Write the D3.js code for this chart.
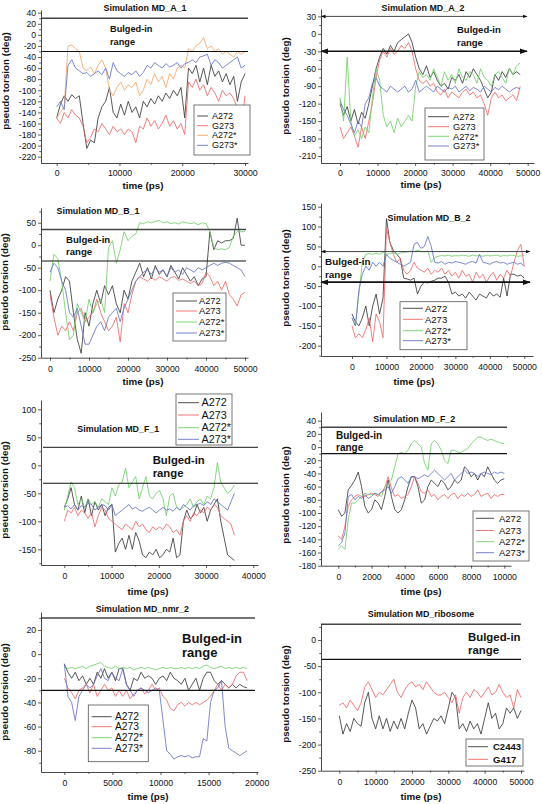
<!DOCTYPE html>
<html><head><meta charset="utf-8">
<script src="https://cdn.jsdelivr.net/npm/d3@7"></script>
<style>
body{margin:0;background:#fff}
svg{display:block}
text{font-family:"Liberation Sans",Arial,Helvetica,sans-serif}
</style>
</head><body>
<svg id="chart" width="542" height="804"></svg>
<script>
// ---------------- DATA ----------------
// sampling steps (ps) of each simulation trace
const stepA1 = 600, stepA2 = 960, stepB1 = 1000, stepB2 = 1000, stepF1 = 720, stepF2 = 200, stepNmr2 = 380, stepRibo = 1000;

const a1_A272 = [-150,-125,-110,-120,-108,-115,-110,-160,-205,-190,-195,-150,-130,-120,-95,-140,-150,-125,-145,-120,-140,-130,-150,-120,-130,-115,-125,-110,-120,-105,-115,-100,-110,-95,-150,-60,-70,-55,-85,-60,-90,-55,-75,-65,-85,-70,-90,-75,-120,-85,-70];
const a1_G273 = [-150,-160,-140,-150,-135,-145,-150,-165,-195,-185,-170,-175,-160,-170,-180,-165,-175,-170,-180,-170,-175,-195,-165,-170,-150,-165,-155,-170,-160,-145,-165,-155,-170,-160,-180,-85,-95,-80,-100,-90,-110,-95,-105,-120,-100,-110,-105,-115,-135,-170,-110];
const a1_A272s = [-150,-140,-130,-20,-18,-25,-30,-60,-65,-58,-70,-55,-45,-60,-100,-110,-95,-85,-100,-90,-95,-85,-110,-100,-80,-90,-70,-85,-75,-95,-70,-80,-60,-55,-60,-25,-30,-20,-15,-5,-25,-20,-30,-25,-35,-30,-35,-40,-30,-35,-30];
const a1_G273s = [-130,-120,-135,-55,-45,-60,-65,-70,-68,-75,-70,-65,-72,-60,-80,-50,-65,-70,-75,-68,-72,-65,-75,-68,-55,-60,-50,-55,-60,-52,-58,-55,-50,-60,-52,-50,-45,-50,-40,-38,-35,-55,-45,-50,-60,-55,-50,-45,-40,-60,-55];

const a2_A272 = [-120,-140,-125,-150,-130,-155,-135,-145,-120,-90,-60,-40,-25,-35,-20,-30,-15,-10,-5,0,-15,-40,-60,-70,-55,-75,-65,-80,-90,-85,-95,-75,-80,-70,-85,-65,-75,-60,-70,-80,-95,-110,-100,-70,-80,-65,-75,-60,-70,-65,-70];
const a2_G273 = [-160,-180,-170,-160,-175,-195,-160,-180,-150,-120,-75,-45,-30,-40,-25,-35,-30,-20,-25,-15,-30,-60,-80,-85,-80,-90,-85,-100,-105,-95,-110,-100,-105,-110,-100,-95,-105,-100,-110,-105,-120,-140,-110,-100,-110,-105,-115,-110,-105,-115,-90];
const a2_A272s = [-110,-150,-40,-150,-175,-165,-180,-160,-170,-110,-60,-80,-140,-160,-150,-170,-145,-160,-150,-140,-150,-90,-65,-75,-70,-80,-60,-75,-90,-65,-80,-70,-85,-60,-75,-80,-65,-70,-85,-60,-75,-80,-90,-70,-65,-75,-85,-60,-70,-55,-50];
const a2_G273s = [-115,-130,-140,-155,-170,-150,-160,-120,-110,-85,-75,-90,-95,-100,-90,-95,-100,-95,-90,-100,-95,-80,-100,-95,-90,-95,-100,-90,-95,-100,-92,-95,-90,-100,-95,-90,-98,-92,-95,-100,-90,-95,-100,-92,-96,-90,-95,-100,-95,-92,-95];

const b1_A272 = [-100,-150,-120,-100,-70,-80,-150,-210,-240,-150,-180,-130,-100,-130,-90,-110,-90,-130,-150,-100,-120,-80,-60,-40,-70,-50,-75,-45,-65,-55,-70,-45,-60,-75,-50,-65,-80,-70,-90,-75,-70,30,-10,10,5,10,10,15,60,0,0];
const b1_A273 = [-110,-160,-200,-180,-190,-170,-190,-150,-140,-170,-160,-150,-120,-150,-170,-190,-180,-160,-215,-130,-150,-110,-80,-70,-75,-80,-72,-78,-70,-75,-80,-72,-70,-78,-75,-80,-85,-80,-90,-85,-60,-70,-90,-80,-100,-80,-110,-120,-135,-110,-105];
const b1_A272s = [-80,-20,-30,-80,-150,-210,-200,-130,-150,-170,-120,-150,-130,-120,-150,-5,10,-40,-10,30,10,20,25,50,48,52,50,53,55,50,52,48,50,47,52,50,48,50,45,50,48,30,-5,-10,-8,-10,-5,20,30,30,30];
const b1_A273s = [-60,-40,-50,-80,-100,-150,-160,-140,-180,-220,-220,-200,-180,-170,-190,-160,-150,-140,-170,-140,-120,-100,-80,-70,-60,-55,-65,-50,-60,-55,-70,-50,-60,-55,-65,-50,-55,-60,-50,-55,-50,-45,-40,-45,-40,-38,-40,-45,-50,-55,-70];

const b2_A272 = [-120,-140,-150,-130,-100,-150,-100,-70,-120,-80,120,60,40,30,20,-30,-32,-35,-30,-70,-50,-40,-42,-38,-35,-30,-30,-25,-40,-70,-65,-75,-70,-80,-65,-75,-85,-70,-75,-80,-65,-75,-70,-78,-30,-75,-20,-20,-25,-22,-30];
const b2_A273 = [-150,-180,-170,-180,-160,-130,-190,-120,-140,-180,95,60,30,10,20,-10,-20,-10,10,-5,-10,-15,-5,-20,-10,-15,-5,-20,-10,-25,-15,-30,-10,-25,-20,-40,-15,-30,-20,-40,-25,-15,-35,-20,-30,-10,-25,10,40,55,0];
const b2_A272s = [-130,-150,-70,10,30,32,30,33,30,35,30,32,34,30,33,35,36,38,37,40,38,36,39,10,22,25,27,26,28,25,27,26,28,27,25,28,26,27,25,28,26,27,28,25,27,26,28,27,25,26,27];
const b2_A273s = [-130,-150,-60,-20,0,-10,10,0,10,0,30,20,15,10,5,0,5,10,55,60,45,50,75,50,10,8,12,5,10,8,12,10,8,5,10,12,8,30,10,8,5,10,12,8,10,5,8,10,5,8,0];

const f1_A272 = [-75,-60,-40,-70,-80,-55,-85,-60,-90,-65,-80,-70,-90,-75,-70,-155,-140,-130,-150,-125,-150,-120,-135,-160,-165,-155,-160,-150,-165,-160,-150,-155,-130,-165,-160,-100,-80,-95,-90,-70,-85,-75,-100,-80,-70,-60,-100,-130,-160,-165,-170];
const f1_A273 = [-100,-80,-85,-75,-90,-80,-85,-95,-85,-110,-90,-75,-80,-95,-100,-105,-110,-115,-105,-110,-115,-100,-110,-105,-115,-120,-110,-115,-110,-115,-105,-110,-120,-115,-125,-100,-90,-100,-85,-90,-80,-85,-75,-80,-70,-75,-90,-95,-100,-105,-125];
const f1_A272s = [-80,-55,-30,-40,-70,-60,-75,-60,-70,-65,-75,-60,-65,-70,-40,-55,-35,-30,-5,-40,-30,-20,-60,-40,-20,-55,-60,-50,-45,-60,-90,-55,-50,-75,-80,-75,-70,-60,-75,-65,-60,-70,-55,-60,-40,5,-30,-40,-50,-45,-35];
const f1_A273s = [-75,-72,-78,-70,-80,-72,-75,-68,-70,-80,-75,-70,-72,-80,-70,-90,-85,-80,-75,-70,-78,-75,-80,-82,-78,-75,-80,-85,-80,-75,-80,-78,-82,-75,-80,-70,-75,-80,-72,-70,-68,-72,-65,-70,-60,-65,-70,-75,-80,-65,-50];

const f2_A272 = [-95,-105,-100,-65,-58,-50,-38,-60,-90,-100,-95,-80,-85,-95,-75,-50,-75,-95,-100,-95,-80,-60,-45,-45,-60,-85,-80,-60,-50,-55,-60,-50,-55,-65,-60,-50,-55,-50,-30,-35,-45,-40,-50,-40,-45,-30,-40,-50,-55,-50,-48];
const f2_A273 = [-135,-140,-120,-90,-80,-75,-72,-75,-75,-72,-70,-72,-75,-68,-62,-45,-62,-75,-72,-78,-75,-72,-60,-45,-55,-68,-70,-65,-75,-72,-80,-75,-72,-78,-72,-70,-78,-72,-75,-70,-75,-72,-65,-75,-72,-70,-78,-72,-75,-72,-72];
const f2_A272s = [-155,-150,-155,-110,-85,-85,-80,-75,-70,-72,-72,-70,-72,-75,-60,-55,-50,-30,-10,-8,-10,-5,5,10,5,0,-25,-35,5,10,5,-5,-20,-25,-5,-5,-8,-8,-5,-2,5,10,15,15,12,10,12,10,8,6,5];
const f2_A273s = [-150,-145,-130,-75,-72,-80,-75,-78,-72,-78,-75,-70,-72,-68,-65,-60,-70,-60,-48,-45,-50,-55,-45,-45,-48,-45,-42,-45,-40,-35,-40,-45,-50,-45,-40,-50,-45,-40,-35,-40,-38,-40,-45,-40,-38,-40,-42,-38,-40,-38,-40];

const nmr_A272 = [-8,-15,-20,-15,-22,-18,-25,-20,-25,-15,-20,-12,-20,-15,-22,-12,-12,-25,-30,-20,-22,-15,-20,-18,-20,-25,-20,-18,-22,-15,-20,-22,-25,-20,-30,-25,-20,-30,-20,-15,-15,-22,-25,-22,-25,-28,-25,-28,-25,-27,-28];
const nmr_A273 = [-20,-28,-32,-37,-30,-28,-25,-32,-25,-35,-30,-25,-30,-28,-35,-30,-35,-30,-37,-33,-30,-28,-33,-30,-25,-30,-28,-35,-38,-45,-47,-42,-40,-43,-40,-42,-40,-42,-40,-38,-35,-30,-25,-30,-25,-28,-25,-18,-15,-15,-22];
const nmr_A272s = [-10,-12,-11,-12,-11,-10,-12,-10,-9,-8,-7,-10,-11,-12,-10,-12,-11,-12,-11,-13,-12,-11,-12,-11,-12,-13,-12,-11,-12,-11,-12,-12,-11,-12,-11,-12,-11,-12,-10,-9,-11,-12,-11,-10,-12,-11,-12,-11,-12,-11,-12];
const nmr_A273s = [-8,-35,-40,-55,-35,-30,-25,-28,-25,-18,-12,-20,-22,-15,-20,-22,-12,-25,-30,-35,-30,-28,-30,-32,-30,-28,-30,-55,-80,-83,-87,-85,-84,-85,-84,-86,-85,-85,-70,-72,-40,-30,-28,-22,-60,-78,-80,-82,-84,-82,-80];

const ribo_C2443 = [-145,-180,-160,-175,-150,-160,-165,-120,-100,-150,-170,-145,-170,-150,-175,-155,-170,-150,-170,-140,-115,-130,-170,-160,-180,-165,-150,-155,-145,-160,-130,-100,-110,-170,-160,-175,-155,-170,-160,-180,-150,-120,-150,-140,-170,-160,-130,-140,-130,-150,-135];
const ribo_G417 = [-125,-120,-130,-115,-125,-135,-120,-90,-80,-95,-110,-100,-105,-95,-85,-75,-100,-110,-95,-85,-80,-90,-85,-95,-80,-90,-100,-105,-105,-100,-110,-120,-105,-140,-110,-100,-110,-95,-100,-110,-100,-90,-105,-100,-85,-100,-110,-105,-130,-95,-110];

// titles, labels, ticks, bulged-in bounds
const titles = ["Simulation MD_A_1","Simulation MD_A_2","Simulation MD_B_1","Simulation MD_B_2","Simulation MD_F_1","Simulation MD_F_2","Simulation MD_nmr_2","Simulation MD_ribosome"];
const bulgedBounds = [[30,-30],[30,-30],[35,-35],[37,-40],[32,-32],[30,-10],[30,-30],[30,-37]];
const xTicks30k = [0,10000,20000,30000], xMinor30k = [5000,15000,25000];
const xTicks50k = [0,10000,20000,30000,40000,50000], xMinor50k = [5000,15000,25000,35000,45000];
const xTicks40k = [0,10000,20000,30000,40000], xMinor40k = [5000,15000,25000,35000];
const xTicks10k = [0,2000,4000,6000,8000,10000], xMinor10k = [1000,3000,5000,7000,9000];
const xTicks20k = [0,5000,10000,15000,20000], xMinor20k = [2500,7500,12500,17500];
const yTicksA1 = [-220,-200,-180,-160,-140,-120,-100,-80,-60,-40,-20,0,20,40];
const yMinorA1 = [-210,-190,-170,-150,-130,-110,-90,-70,-50,-30,-10,10,30];
const yTicksA2 = [-210,-180,-150,-120,-90,-60,-30,0,30];
const yMinorA2 = [-195,-165,-135,-105,-75,-45,-15,15];
const yTicksB1 = [-250,-200,-150,-100,-50,0,50];
const yMinorB1 = [-225,-175,-125,-75,-25,25,75];
const yTicksB2 = [-200,-150,-100,-50,0,50,100,150];
const yMinorB2 = [-225,-175,-125,-75,-25,25,75,125];
const yTicksF1 = [-150,-100,-50,0,50,100];
const yMinorF1 = [-175,-125,-75,-25,25,75];
const yTicksF2 = [-180,-160,-140,-120,-100,-80,-60,-40,-20,0,20,40];
const yMinorF2 = [-170,-150,-130,-110,-90,-70,-50,-30,-10,10,30];
const yTicksNmr = [-80,-60,-40,-20,0,20];
const yMinorNmr = [-90,-70,-50,-30,-10,10,30];
const yTicksRibo = [-250,-200,-150,-100,-50,0];
const yMinorRibo = [-225,-175,-125,-75,-25,25];

// ---------------- STYLE / LAYOUT ----------------
const COL = {black:"#3a3a3a", red:"#f06868", orange:"#f5a868", green:"#72cf6a", blue:"#6674c6"};
const S4 = (names, vals, c3) => names.map((n,i)=>({name:n, values:vals[i], color:[COL.black,COL.red,c3||COL.green,COL.blue][i]}));

const panels = [
 {title:titles[0], step:stepA1, series:S4(["A272","G273","A272*","G273*"],[a1_A272,a1_G273,a1_A272s,a1_G273s],COL.orange),
  xRef:[0,56.7,30000,245], xAxis:[41,248], xAxisY:163, yRef:[40,12.7,-220,156.7], yAxis:[10,163], yAxisX:41,
  xTicks:xTicks30k, xMinor:xMinor30k, yTicks:yTicksA1, yMinor:yMinorA1, ref:bulgedBounds[0], refX:[41,248], arrows:false,
  tpos:[145,10.5,"middle"], bulged:[110,32,44.5,9.2], legend:{x:194,y:105,w:56,h:50,rows:[116,125.7,135.3,145.3],lx:[197,208],tx:212,size:9},
  ylab:[6,81], xlab:[143,189], xpad:4},
 {title:titles[1], step:stepA2, series:S4(["A272","G273","A272*","G273*"],[a2_A272,a2_G273,a2_A272s,a2_G273s]),
  xRef:[0,340,50000,527.7], xAxis:[321,534], xAxisY:163, yRef:[30,16.4,-210,156], yAxis:[9,163], yAxisX:321,
  xTicks:xTicks50k, xMinor:xMinor50k, yTicks:yTicksA2, yMinor:yMinorA2, ref:bulgedBounds[1], refX:[321,527], arrows:true,
  tpos:[423,10.5,"middle"], bulged:[457,33,45.7,9.5], legend:{x:425,y:108,w:59,h:52,rows:[116.7,126.7,136.3,146],lx:[428,449],tx:453,size:9.3},
  ylab:[286,86], xlab:[421,188], xpad:4},
 {title:titles[2], step:stepB1, series:S4(["A272","A273","A272*","A273*"],[b1_A272,b1_A273,b1_A272s,b1_A273s]),
  xRef:[0,50,50000,245], xAxis:[41,248], xAxisY:357.7, yRef:[50,222.7,-250,357.7], yAxis:[208,357.7], yAxisX:41,
  xTicks:xTicks50k, xMinor:xMinor50k, yTicks:yTicksB1, yMinor:yMinorB1, ref:bulgedBounds[2], refX:[41,246], arrows:false,
  tpos:[98,213.5,"middle"], bulged:[66,242.5,254.5,9.6], legend:{x:173,y:293,w:53,h:48,rows:[301,311,322,333],lx:[176,197],tx:199,size:9.3},
  ylab:[5,282], xlab:[143,385], xpad:5},
 {title:titles[3], step:stepB2, series:S4(["A272","A273","A272*","A273*"],[b2_A272,b2_A273,b2_A272s,b2_A273s]),
  xRef:[0,352,50000,524.3], xAxis:[321,533], xAxisY:356, yRef:[150,206.7,-200,345.7], yAxis:[203,356], yAxisX:321,
  xTicks:xTicks50k, xMinor:xMinor50k, yTicks:yTicksB2, yMinor:yMinorB2, ref:bulgedBounds[3], refX:[321,530], arrows:true,
  tpos:[429,221,"middle"], bulged:[325,265,277.7,9.9], legend:{x:400,y:301.7,w:67,h:48,rows:[308.3,319.3,330.7,340.7],lx:[403,423],tx:425,size:9.5},
  ylab:[286,278], xlab:[414,384.5], xpad:5},
 {title:titles[4], step:stepF1, series:S4(["A272","A273","A272*","A273*"],[f1_A272,f1_A273,f1_A272s,f1_A273s]),
  xRef:[0,64.3,40000,253.3], xAxis:[41,258], xAxisY:565, yRef:[100,409.3,-150,549.3], yAxis:[400,565], yAxisX:41,
  xTicks:xTicks40k, xMinor:xMinor40k, yTicks:yTicksF1, yMinor:yMinorF1, ref:bulgedBounds[4], refX:[43,258], arrows:false,
  tpos:[118.3,432,"middle"], bulged:[152.7,464,476.7,11.3], legend:{x:176,y:394,w:56,h:51,rows:[402.7,415,427.7,439.3],lx:[178,199],tx:201.5,size:10.8},
  ylab:[5,490], xlab:[148,594.5], xpad:5},
 {title:titles[5], step:stepF2, series:S4(["A272","A273","A272*","A273*"],[f2_A272,f2_A273,f2_A272s,f2_A273s]),
  xRef:[0,338.3,10000,504.3], xAxis:[321,511], xAxisY:565.7, yRef:[40,420.7,-180,565.7], yAxis:[412,565.7], yAxisX:321,
  xTicks:xTicks10k, xMinor:xMinor10k, yTicks:yTicksF2, yMinor:yMinorF2, ref:bulgedBounds[5], refX:[321,507], arrows:false,
  tpos:[414.3,421.5,"middle"], bulged:[336,439,451,10], legend:{x:473,y:511,w:56,h:50,rows:[518.3,530.5,541.7,552.7],lx:[476,494],tx:499,size:9.5},
  ylab:[286,495], xlab:[421,594.5], xpad:5},
 {title:titles[6], step:stepNmr2, series:S4(["A272","A273","A272*","A273*"],[nmr_A272,nmr_A273,nmr_A272s,nmr_A273s]),
  xRef:[0,64.3,20000,256.7], xAxis:[41,258], xAxisY:772, yRef:[20,630,-80,750.7], yAxis:[612,772], yAxisX:41,
  xTicks:xTicks20k, xMinor:xMinor20k, yTicks:yTicksNmr, yMinor:yMinorNmr, ref:bulgedBounds[6], refX:[41,255], arrows:false,
  tpos:[142.3,611.5,"middle"], bulged:[182,642.7,656.7,13], legend:{x:88.3,y:705,w:60,h:56.7,rows:[716.7,726.7,737.7,748.3],lx:[91.7,111.7],tx:115,size:10.3},
  ylab:[5,692], xlab:[148,799.5], xpad:5},
 {title:titles[7], step:stepRibo, series:[{name:"C2443",values:ribo_C2443,color:COL.black},{name:"G417",values:ribo_G417,color:COL.red}],
  xRef:[0,339.3,50000,521], xAxis:[321,524], xAxisY:770.7, yRef:[0,640,-250,770.7], yAxis:[624,770.7], yAxisX:321,
  xTicks:xTicks50k, xMinor:xMinor50k, yTicks:yTicksRibo, yMinor:yMinorRibo, ref:bulgedBounds[7], refX:[321,521], arrows:false,
  tpos:[421,617,"middle"], bulged:[468,640.7,654,11.4], legend:{x:466,y:739,w:57,h:27,rows:[746.7,759.3],lx:[468,488],tx:493,size:9.5,bold:true},
  ylab:[286,694], xlab:[421,799.5], xpad:5}
];

// ---------------- DRAW ----------------
const svg = d3.select("#chart");
const defs = svg.append("defs");
["start","end"].forEach(k=>{
  defs.append("marker").attr("id","arr-"+k).attr("viewBox","0 0 10 10").attr("refX", k==="end"?9:1).attr("refY",5)
    .attr("markerWidth",5).attr("markerHeight",5).attr("orient","auto")
    .append("path").attr("d", k==="end" ? "M0,1.5L10,5L0,8.5Z" : "M10,1.5L0,5L10,8.5Z").attr("fill","#111");
});
const fmt = d => String(d);

panels.forEach(p=>{
  const g = svg.append("g");
  const x0 = d3.scaleLinear().domain([p.xRef[0],p.xRef[2]]).range([p.xRef[1],p.xRef[3]]);
  const y0 = d3.scaleLinear().domain([p.yRef[0],p.yRef[2]]).range([p.yRef[1],p.yRef[3]]);
  const x = d3.scaleLinear().domain([x0.invert(p.xAxis[0]), x0.invert(p.xAxis[1])]).range(p.xAxis);
  const y = d3.scaleLinear().domain([y0.invert(p.yAxis[1]), y0.invert(p.yAxis[0])]).range([p.yAxis[1], p.yAxis[0]]);

  // series
  const line = d3.line().x(d=>x(d[0])).y(d=>y(d[1]));
  p.series.forEach(s=>{
    const pts = s.values.map((v,i)=>[i*p.step, v]);
    g.append("path").datum(pts).attr("d",line).attr("fill","none")
      .attr("stroke",s.color).attr("stroke-width",0.85).attr("stroke-linejoin","round");
  });

  // bulged-in reference lines
  p.ref.forEach((v,i)=>{
    const l = g.append("line").attr("x1",p.refX[0]).attr("x2",p.refX[1]).attr("y1",y(v)).attr("y2",y(v))
      .attr("stroke", i===0 ? "#444" : "#111").attr("stroke-width", p.arrows ? (i===0?1:1.6) : (i===0?1.4:1.1));
    if(p.arrows){ l.attr("marker-start","url(#arr-start)").attr("marker-end","url(#arr-end)"); }
  });

  // axes
  const xa = g.append("g").attr("transform",`translate(0,${p.xAxisY})`)
    .call(d3.axisBottom(x).tickValues(p.xTicks).tickFormat(fmt).tickSize(3).tickSizeOuter(0).tickPadding(p.xpad));
  g.append("g").attr("transform",`translate(0,${p.xAxisY})`)
    .call(d3.axisBottom(x).tickValues(p.xMinor).tickFormat("").tickSize(1.8).tickSizeOuter(0))
    .call(a=>a.select(".domain").remove());
  const ya = g.append("g").attr("transform",`translate(${p.yAxisX},0)`)
    .call(d3.axisLeft(y).tickValues(p.yTicks).tickFormat(fmt).tickSize(3).tickSizeOuter(0).tickPadding(1.8));
  g.append("g").attr("transform",`translate(${p.yAxisX},0)`)
    .call(d3.axisLeft(y).tickValues(p.yMinor.filter(v=>y(v)>=p.yAxis[0]-0.1)).tickFormat("").tickSize(1.8).tickSizeOuter(0))
    .call(a=>a.select(".domain").remove());
  g.selectAll(".domain").attr("stroke","#333").attr("stroke-width",0.9);
  g.selectAll(".tick line").attr("stroke","#333").attr("stroke-width",0.8);
  g.selectAll(".tick text").attr("font-size",8.7).attr("fill","#111").attr("font-family",null);

  // title
  g.append("text").attr("x",p.tpos[0]).attr("y",p.tpos[1]).attr("text-anchor",p.tpos[2])
    .attr("font-size",8.9).attr("font-weight","bold").attr("fill","#111").text(p.title);

  // bulged-in range label
  const b = p.bulged;
  g.append("text").attr("x",b[0]).attr("y",b[1]).attr("font-size",b[3]).attr("font-weight","bold").attr("fill","#111").text("Bulged-in");
  g.append("text").attr("x",b[0]).attr("y",b[2]).attr("font-size",b[3]).attr("font-weight","bold").attr("fill","#111").text("range");

  // axis labels
  g.append("text").attr("transform",`translate(${p.ylab[0]},${p.ylab[1]}) rotate(-90)`).attr("text-anchor","middle")
    .attr("dy","0.35em").attr("font-size",9.8).attr("font-weight","bold").attr("fill","#111").text("pseudo torsion (deg)");
  g.append("text").attr("x",p.xlab[0]).attr("y",p.xlab[1]).attr("text-anchor","middle")
    .attr("font-size",9.8).attr("font-weight","bold").attr("fill","#111").text("time (ps)");

  // legend
  const L = p.legend;
  g.append("rect").attr("x",L.x).attr("y",L.y).attr("width",L.w).attr("height",L.h)
    .attr("fill","#fff").attr("stroke","#555").attr("stroke-width",0.8);
  p.series.forEach((s,i)=>{
    g.append("line").attr("x1",L.lx[0]).attr("x2",L.lx[1]).attr("y1",L.rows[i]).attr("y2",L.rows[i])
      .attr("stroke",s.color).attr("stroke-width",0.9);
    g.append("text").attr("x",L.tx).attr("y",L.rows[i]).attr("dy","0.35em").attr("font-size",L.size)
      .attr("font-weight",L.bold?"bold":null).attr("fill","#111").text(s.name);
  });
});
</script>
</body></html>
